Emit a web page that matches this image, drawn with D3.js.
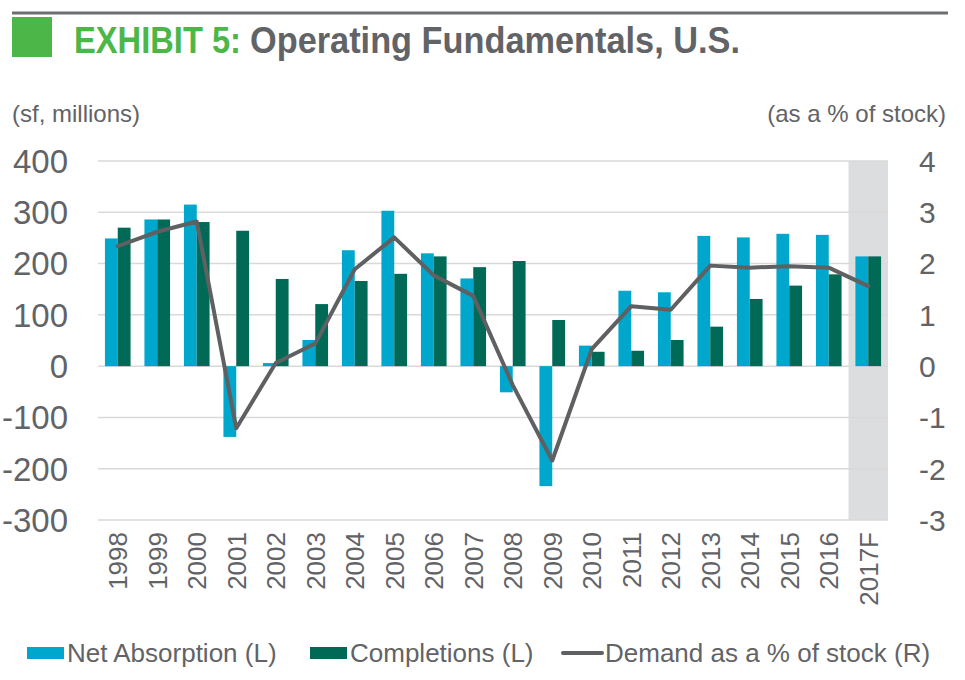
<!DOCTYPE html>
<html>
<head>
<meta charset="utf-8">
<script src="https://d3js.org/d3.v7.min.js"></script>
<style>
  body { margin: 0; background: #fff; }
  svg { display: block; font-family: 'Liberation Sans', Arial, sans-serif; }
</style>
</head>
<body>
<svg id="chart" width="965" height="680"></svg>
<script>
var years = ['1998','1999','2000','2001','2002','2003','2004','2005','2006','2007',
  '2008','2009','2010','2011','2012','2013','2014','2015','2016','2017F'];
var netAbsorption = [249, 286, 315, -138, 6, 51, 226, 303, 220, 171,
  -51, -234, 40, 147, 144, 254, 251, 258, 256, 214];
var completions = [270, 286, 281, 264, 170, 121, 166, 180, 214, 193,
  205, 90, 28, 30, 51, 77, 131, 157, 179, 214];
var demandPct = [2.34, 2.62, 2.82, -1.21, 0.06, 0.44, 1.89, 2.51, 1.77, 1.37,
  -0.37, -1.84, 0.33, 1.17, 1.10, 1.96, 1.92, 1.95, 1.92, 1.56];
var leftTicks = [400, 300, 200, 100, 0, -100, -200, -300];
var rightTicks = [4, 3, 2, 1, 0, -1, -2, -3];
var forecastYear = '2017F';

var textGray = '#626366';
var cyan = '#00a7cc';
var darkGreen = '#006a56';
var lineGray = '#5f6062';

var svg = d3.select('#chart');

var x = d3.scaleBand().domain(years).range([98, 888]);
var keys = ['na', 'comp'];
var xInner = d3.scaleBand().domain(keys).range([0, x.bandwidth()]).paddingOuter(0.54);
var yL = d3.scaleLinear().domain([-300, 400]).range([520, 161]);
var yR = d3.scaleLinear().domain([-3, 4]).range([520, 161]);

// header
svg.append('line')
  .attr('x1', 12).attr('x2', 948)
  .attr('y1', 13).attr('y2', 13)
  .style('stroke', '#6d6e71')
  .style('stroke-width', 3);

svg.append('rect')
  .attr('x', 12).attr('y', 17)
  .attr('width', 40).attr('height', 40)
  .attr('fill', '#4cb748');

svg.append('text')
  .attr('x', 74).attr('y', 53)
  .attr('textLength', 167)
  .attr('lengthAdjust', 'spacingAndGlyphs')
  .style('font-size', '36px')
  .style('font-weight', 'bold')
  .attr('fill', '#4cb748')
  .text('EXHIBIT 5:');

svg.append('text')
  .attr('x', 250).attr('y', 53)
  .attr('textLength', 490)
  .attr('lengthAdjust', 'spacingAndGlyphs')
  .style('font-size', '36px')
  .style('font-weight', 'bold')
  .attr('fill', textGray)
  .text('Operating Fundamentals, U.S.');

svg.append('text')
  .attr('x', 12).attr('y', 122)
  .style('font-size', '24px')
  .attr('fill', textGray)
  .text('(sf, millions)');

svg.append('text')
  .attr('x', 946).attr('y', 122)
  .attr('text-anchor', 'end')
  .style('font-size', '24px')
  .attr('fill', textGray)
  .text('(as a % of stock)');

// forecast shading
svg.append('rect')
  .attr('x', x(forecastYear))
  .attr('y', yL(400))
  .attr('width', x.bandwidth())
  .attr('height', yL(-300) - yL(400))
  .attr('fill', '#dcdddf');

// gridlines
svg.selectAll('.grid')
  .data(leftTicks).enter()
  .append('line')
  .attr('class', 'grid')
  .attr('x1', 98).attr('x2', 888)
  .attr('y1', function(d){ return yL(d); })
  .attr('y2', function(d){ return yL(d); })
  .style('stroke', '#d9d9d9')
  .style('stroke-width', 1.5);

// bars
var rows = years.map(function(y, i){
  return {year: y, na: netAbsorption[i], comp: completions[i], pct: demandPct[i]};
});

var groups = svg.selectAll('.yr')
  .data(rows).enter()
  .append('g')
  .attr('class', 'yr')
  .attr('transform', function(d){ return 'translate(' + x(d.year) + ',0)'; });

groups.selectAll('rect')
  .data(function(d){ return keys.map(function(k){ return {key: k, value: d[k]}; }); })
  .enter()
  .append('rect')
  .attr('x', function(d){ return xInner(d.key); })
  .attr('width', xInner.bandwidth())
  .attr('y', function(d){ return yL(Math.max(0, d.value)); })
  .attr('height', function(d){ return Math.abs(yL(d.value) - yL(0)); })
  .attr('fill', function(d){ return d.key == 'na' ? cyan : darkGreen; });

// demand line
var line = d3.line()
  .x(function(d){ return x(d.year) + x.bandwidth() / 2; })
  .y(function(d){ return yR(d.pct); });

svg.append('path')
  .datum(rows)
  .attr('d', line)
  .style('fill', 'none')
  .style('stroke', lineGray)
  .style('stroke-width', 4)
  .style('stroke-linejoin', 'round')
  .style('stroke-linecap', 'round');

// axes labels
svg.selectAll('.lt')
  .data(leftTicks).enter()
  .append('text')
  .attr('class', 'lt')
  .attr('x', 68)
  .attr('y', function(d){ return yL(d); })
  .attr('dy', '0.36em')
  .attr('text-anchor', 'end')
  .style('font-size', '33px')
  .attr('fill', textGray)
  .text(function(d){ return d; });

svg.selectAll('.rt')
  .data(rightTicks).enter()
  .append('text')
  .attr('class', 'rt')
  .attr('x', 919)
  .attr('y', function(d){ return yR(d); })
  .attr('dy', '0.36em')
  .style('font-size', '30px')
  .attr('fill', textGray)
  .text(function(d){ return d; });

svg.selectAll('.xl')
  .data(years).enter()
  .append('text')
  .attr('class', 'xl')
  .attr('transform', function(d){
    return 'translate(' + (x(d) + x.bandwidth() / 2) + ',532) rotate(-90)';
  })
  .attr('dy', '0.36em')
  .attr('text-anchor', 'end')
  .style('font-size', '26px')
  .attr('fill', textGray)
  .text(function(d){ return d; });

// legend
var legend = [
  {label: 'Net Absorption (L)', type: 'rect', color: cyan, x: 27},
  {label: 'Completions (L)', type: 'rect', color: darkGreen, x: 310},
  {label: 'Demand as a % of stock (R)', type: 'line', color: lineGray, x: 563}
];

var items = svg.selectAll('.lg')
  .data(legend).enter()
  .append('g')
  .attr('class', 'lg')
  .attr('transform', function(d){ return 'translate(' + d.x + ',653)'; });

items.filter(function(d){ return d.type == 'rect'; })
  .append('rect')
  .attr('x', 0).attr('y', -6)
  .attr('width', 37).attr('height', 12)
  .attr('fill', function(d){ return d.color; });

items.filter(function(d){ return d.type == 'line'; })
  .append('line')
  .attr('x1', 0).attr('x2', 39)
  .attr('y1', 0).attr('y2', 0)
  .style('stroke', function(d){ return d.color; })
  .style('stroke-width', 4)
  .style('stroke-linecap', 'round');

items.append('text')
  .attr('x', function(d){ return d.type == 'line' ? 42 : 40; })
  .attr('y', 0)
  .attr('dy', '0.36em')
  .style('font-size', '26px')
  .attr('fill', textGray)
  .text(function(d){ return d.label; });
</script>
</body>
</html>
